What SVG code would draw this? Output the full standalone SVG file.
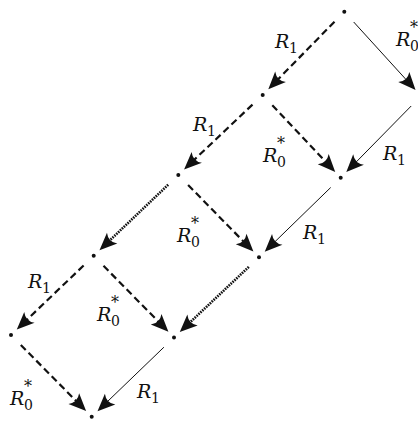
<svg xmlns="http://www.w3.org/2000/svg" width="418" height="421" viewBox="0 0 418 421">
<style>
.bg{fill:#fff}
.dot{fill:#111}
.e{fill:none;stroke:#111;marker-end:url(#ah)}
.dash{stroke-width:2.2;stroke-dasharray:7 4}
.dotted{stroke-width:2.6;stroke-dasharray:1.6 1}
.solid{stroke-width:1}
.R{font-family:"DejaVu Serif",serif;font-style:italic;font-size:19px;fill:#111}
.s{font-family:"DejaVu Serif",serif;font-size:14px;fill:#111}
.st{font-family:"DejaVu Serif",serif;font-size:16px;fill:#111}
</style>
<defs>
<marker id="ah" markerUnits="userSpaceOnUse" markerWidth="24" markerHeight="20" viewBox="-12 -8 18 16" refX="0" refY="0" orient="auto">
<path d="M4,0 L-10,-6 Q-5.5,0 -10,6 Z" fill="#111"/>
</marker>
</defs>
<rect class="bg" x="0" y="0" width="418" height="421"/>
<g id="connectors">
<line id="e-A-B" class="e dash" x1="334.5" y1="21.7" x2="271.8" y2="85.7"/>
<line id="e-A-C" class="e solid" x1="353.7" y1="22.0" x2="412.2" y2="86.3"/>
<line id="e-B-D" class="e dash" x1="252.5" y1="104.6" x2="187.7" y2="166.0"/>
<line id="e-B-E" class="e dash" x1="272.3" y1="105.2" x2="331.8" y2="168.3"/>
<line id="e-C-E" class="e solid" x1="411.2" y1="106.0" x2="349.8" y2="168.5"/>
<line id="e-D-F" class="e dotted" x1="168.2" y1="184.7" x2="103.1" y2="246.8"/>
<line id="e-D-G" class="e dash" x1="188.1" y1="185.0" x2="249.9" y2="248.0"/>
<line id="e-E-G" class="e solid" x1="330.7" y1="187.5" x2="268.3" y2="248.2"/>
<line id="e-F-H" class="e dash" x1="83.6" y1="265.5" x2="20.4" y2="326.0"/>
<line id="e-F-I" class="e dash" x1="103.5" y1="265.8" x2="164.9" y2="328.2"/>
<line id="e-G-I" class="e dotted" x1="248.8" y1="266.9" x2="183.4" y2="328.6"/>
<line id="e-H-J" class="e dash" x1="20.8" y1="345.0" x2="82.6" y2="407.5"/>
<line id="e-I-J" class="e solid" x1="163.9" y1="347.2" x2="101.1" y2="407.7"/>
</g>
<g id="labels">
<g id="l-A-B"><text class="R" x="275" y="48">R</text><text class="s" x="289" y="53">1</text></g>
<g id="l-A-C"><text class="R" x="396" y="46">R</text><text class="s" x="410" y="51">0</text><text class="st" x="410" y="33">*</text></g>
<g id="l-B-D"><text class="R" x="193" y="131">R</text><text class="s" x="207" y="136">1</text></g>
<g id="l-B-E"><text class="R" x="263" y="162">R</text><text class="s" x="277" y="167">0</text><text class="st" x="277" y="149">*</text></g>
<g id="l-C-E"><text class="R" x="383" y="160">R</text><text class="s" x="397" y="165">1</text></g>
<g id="l-D-G"><text class="R" x="177" y="242">R</text><text class="s" x="191" y="247">0</text><text class="st" x="191" y="229">*</text></g>
<g id="l-E-G"><text class="R" x="303" y="239">R</text><text class="s" x="317" y="244">1</text></g>
<g id="l-F-H"><text class="R" x="28" y="288">R</text><text class="s" x="42" y="293">1</text></g>
<g id="l-F-I"><text class="R" x="97" y="321">R</text><text class="s" x="111" y="326">0</text><text class="st" x="111" y="308">*</text></g>
<g id="l-H-J"><text class="R" x="10" y="405">R</text><text class="s" x="24" y="410">0</text><text class="st" x="24" y="392">*</text></g>
<g id="l-I-J"><text class="R" x="137" y="398">R</text><text class="s" x="151" y="403">1</text></g>
</g>
<g id="node-A"><circle class="dot" cx="344.3" cy="11.7" r="2"/></g>
<g id="node-B"><circle class="dot" cx="262.7" cy="95" r="2"/></g>
<g id="node-C"><circle class="dot" cx="421" cy="96" r="2"/></g>
<g id="node-D"><circle class="dot" cx="178.3" cy="175" r="2"/></g>
<g id="node-E"><circle class="dot" cx="340.7" cy="177.7" r="2"/></g>
<g id="node-F"><circle class="dot" cx="93.7" cy="255.8" r="2"/></g>
<g id="node-G"><circle class="dot" cx="259" cy="257.3" r="2"/></g>
<g id="node-H"><circle class="dot" cx="11" cy="335" r="2"/></g>
<g id="node-I"><circle class="dot" cx="174" cy="337.5" r="2"/></g>
<g id="node-J"><circle class="dot" cx="91.7" cy="416.7" r="2"/></g>
</svg>
